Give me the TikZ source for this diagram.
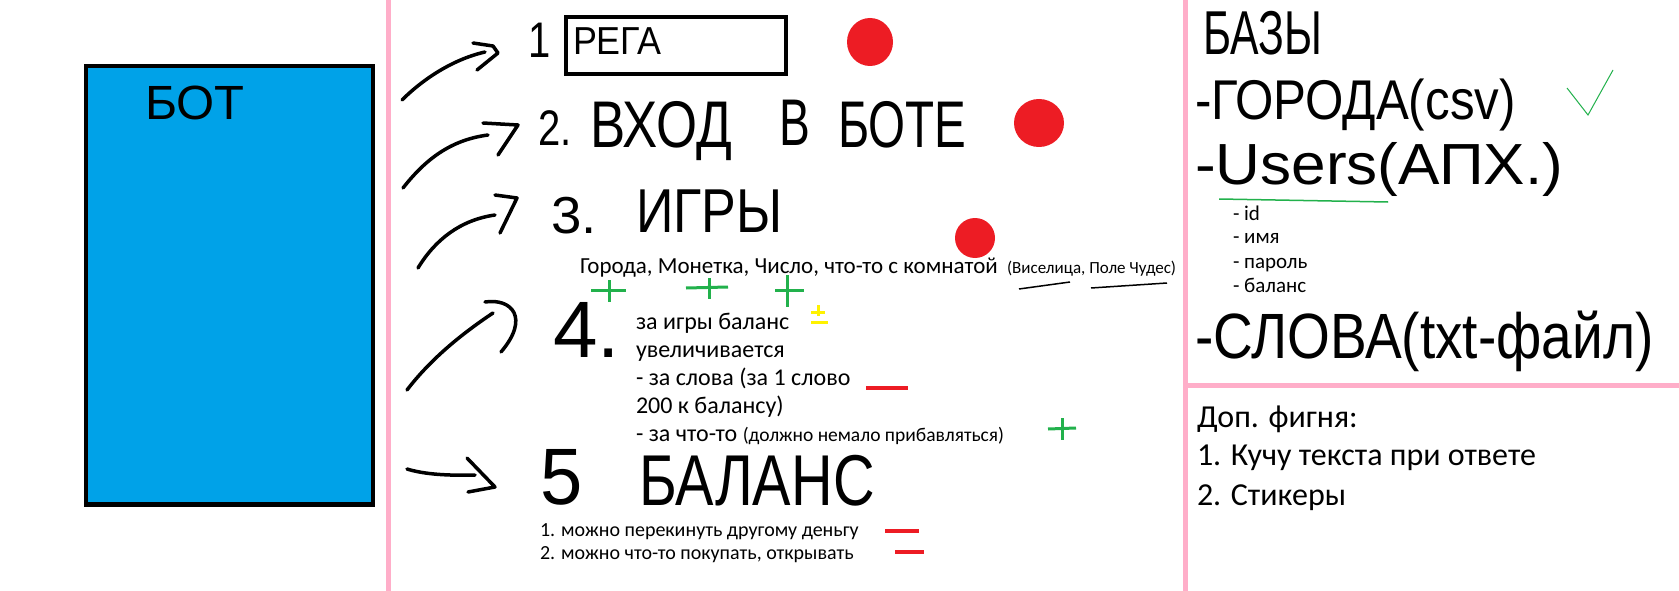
\documentclass[tikz,border=0pt]{standalone}
\usepackage{fontspec}
\usepackage{graphicx}
\newfontfamily\handfont{Liberation Sans}
\newfontfamily\typedfont{Carlito}
\definecolor{pinkline}{HTML}{FFAEC9}
\definecolor{botblue}{HTML}{00A2E8}
\definecolor{dotred}{HTML}{ED1C24}
\definecolor{mkgreen}{HTML}{22B14C}
\definecolor{mkyellow}{HTML}{FFF200}
\newcommand{\hw}[3]{{\fontsize{#1}{#1}\selectfont\handfont\scalebox{#2}[1]{#3}}}
\newcommand{\tp}[2]{{\fontsize{#1}{#1}\selectfont\typedfont #2}}
\tikzset{
  txt/.style={anchor=base west, inner sep=0pt, outer sep=0pt},
  pen/.style={line width=3.5pt, line cap=round, line join=round, black},
  reddot/.style={fill=dotred, draw=none},
  gmark/.style={line width=3pt, mkgreen},
  ymark/.style={line width=3pt, mkyellow},
  rmark/.style={line width=4pt, dotred},
  sep/.style={line width=5pt, pinkline},
}
\begin{document}
\begin{tikzpicture}[x=1pt,y=-1pt]
\useasboundingbox (0,0) rectangle (1679,591);
\fill[white] (0,0) rectangle (1679,591);
% separators
\draw[sep] (388,0) -- (388,591);
\draw[sep] (1185,0) -- (1185,591);
\draw[sep] (1185,385) -- (1679,385);
% bot box
\draw[line width=4.5pt, fill=botblue] (85.75,66.25) rectangle (372.75,504.25);
\node[txt] (bottxt) at (145,120) {\hw{48}{1.02}{БОТ}};
% item 1
\node[txt] (n1) at (528,58) {\hw{50}{0.8}{1}};
\draw[line width=4pt] (566,17) rectangle (786,74);
\node[txt] (rega) at (573,55) {\hw{39}{0.92}{РЕГА}};
% item 2
\node[txt] (n2) at (538,146) {\hw{50}{0.8}{2.}};
\node[txt] (vhod) at (590,148) {\hw{66}{0.8}{ВХОД}};
\node[txt] (v) at (779,146) {\hw{66}{0.7}{В}};
\node[txt] (bote) at (838,148) {\hw{66}{0.72}{БОТЕ}};
% item 3
\node[txt] (n3) at (551,233) {\hw{52}{1.05}{3.}};
\node[txt] (igry) at (636,232) {\hw{62}{0.84}{ИГРЫ}};
% item 4
\node[txt] (n4) at (553,357) {\hw{80}{1}{4.}};
% item 5
\node[txt] (n5) at (540,504) {\hw{80}{0.95}{5}};
\node[txt] (balans) at (639,505) {\hw{72}{0.8}{БАЛАНС}};
% red dots
\fill[reddot] (870,42) ellipse [x radius=23, y radius=24];
\fill[reddot] (1039,123) ellipse [x radius=25, y radius=24];
\fill[reddot] (975,238) ellipse [x radius=20, y radius=20];
% arrows
\coordinate (a1s) at (402,100); \coordinate (a1e) at (485,52);
\draw[pen] (a1s) .. controls (420,82) and (450,60) .. (a1e);
\draw[pen] (473,43) -- (493,46) -- (498,53) -- (477,70);
\coordinate (a2s) at (403,188); \coordinate (a2e) at (488,135);
\draw[pen] (a2s) .. controls (425,160) and (450,140) .. (a2e);
\draw[pen] (483,123) -- (518,125) -- (498,155);
\coordinate (a3s) at (418,268); \coordinate (a3e) at (495,215);
\draw[pen] (a3s) .. controls (435,240) and (460,220) .. (a3e);
\draw[pen] (495,195) -- (517,198) -- (500,233);
\coordinate (a4s) at (407,390); \coordinate (a4e) at (493,313);
\draw[pen] (a4s) .. controls (430,360) and (460,335) .. (a4e);
\draw[pen] (485,302) .. controls (512,298) and (530,318) .. (501,352);
\coordinate (a5s) at (407,469); \coordinate (a5e) at (475,475);
\draw[pen] (a5s) .. controls (420,473) and (440,476) .. (a5e);
\draw[pen] (467,458) -- (495,487) -- (468,492);
% games text
\node[txt] (games) at (580,273) {\tp{23}{Города, Монетка, Число, что-то с комнатой}};
\node[txt] (games2) at (1007,273) {\tp{17}{(Виселица, Поле Чудес)}};
\draw[line width=1.5pt] (1019,289) -- (1070,282);
\draw[line width=1.5pt] (1091,288) -- (1167,283);
% marks
\draw[gmark] (591,290) -- (626,290); \draw[gmark] (609,280) -- (609,302);
\draw[gmark] (686,288) -- (728,287); \draw[gmark] (709,278) -- (709,299);
\draw[gmark] (775,290) -- (804,290); \draw[gmark] (787,275) -- (787,307);
\draw[ymark] (811,312) -- (825,312); \draw[ymark] (818,305) -- (818,316); \draw[ymark] (811,322) -- (828,322);
\draw[rmark] (866,388) -- (908,388);
\draw[gmark] (1048,429) -- (1076,428); \draw[gmark] (1062,418) -- (1062,440);
\draw[rmark] (885,531) -- (919,531);
\draw[rmark] (895,552) -- (924,552);
% item 4 text
\node[txt] (l1) at (636,329) {\tp{24}{за игры баланс}};
\node[txt] (l2) at (636,357) {\tp{24}{увеличивается}};
\node[txt] (l3) at (636,385) {\tp{24}{- за слова (за 1 слово}};
\node[txt] (l4) at (636,413) {\tp{24}{200 к балансу)}};
\node[txt] (l5) at (636,441) {\tp{24}{- за что-то }\tp{19.5}{(должно немало прибавляться)}};
% item 5 text
\node[txt] (b1) at (540,536) {\tp{20}{1. можно перекинуть другому деньгу}};
\node[txt] (b2) at (540,559) {\tp{20}{2. можно что-то покупать, открывать}};
% bases
\node[txt] (bazy) at (1203,55) {\hw{62}{0.69}{БАЗЫ}};
\node[txt] (goroda) at (1195,120) {\hw{56}{0.88}{-ГОРОДА(csv)}};
\draw[line width=1pt, mkgreen] (1567,88) -- (1588,115) -- (1613,70);
\node[txt] (users) at (1195,185) {\hw{58}{1.07}{-Users(АПХ.)}};
\draw[line width=1.5pt, mkgreen] (1219,199) -- (1388,202);
\node[txt] (f1) at (1233,220) {\tp{21}{- id}};
\node[txt] (f2) at (1233,243) {\tp{21}{- имя}};
\node[txt] (f3) at (1233,268) {\tp{21}{- пароль}};
\node[txt] (f4) at (1233,292) {\tp{21}{- баланс}};
\node[txt] (slova) at (1195,358) {\hw{64}{0.86}{-СЛОВА(txt-файл)}};
% extras
\node[txt] (dop) at (1197,427) {\tp{32}{Доп. фигня:}};
\node[txt] (e1) at (1197,465) {\tp{32}{1. Кучу текста при ответе}};
\node[txt] (e2) at (1197,505) {\tp{32}{2. Стикеры}};
\end{tikzpicture}
\end{document}
